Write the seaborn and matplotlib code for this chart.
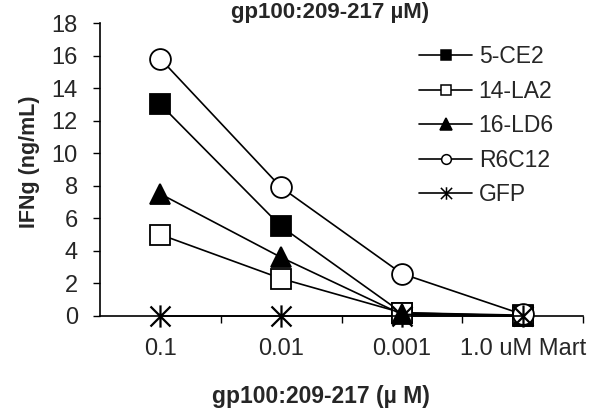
import matplotlib
matplotlib.use("Agg")
import matplotlib.pyplot as plt
from matplotlib.path import Path
import seaborn as sns
import pandas as pd

categories = ["0.1", "0.01", "0.001", "1.0 uM Mart"]
series_names = ["5-CE2", "14-LA2", "16-LD6", "R6C12", "GFP"]
ce2 = [13.0, 5.5, 0.2, 0.05]
la2 = [5.0, 2.3, 0.2, 0.0]
ld6 = [7.5, 3.6, 0.1, 0.0]
r6c12 = [15.8, 7.9, 2.6, 0.1]
gfp = [0.0, 0.0, 0.0, 0.0]
y_ticks = [0, 2, 4, 6, 8, 10, 12, 14, 16, 18]

sns.set_style("white")
plt.rcParams['font.family'] = ['Liberation Sans', 'DejaVu Sans']

rows = []
for name, vals in zip(series_names, [ce2, la2, ld6, r6c12, gfp]):
    for i, (c, v) in enumerate(zip(categories, vals)):
        rows.append({"series": name, "pos": i, "cat": c, "value": v})
df = pd.DataFrame(rows)

# asterisk: vertical stroke plus an X
star = Path([(0, -1), (0, 1), (-0.9, -0.9), (0.9, 0.9), (-0.9, 0.9), (0.9, -0.9)],
            [Path.MOVETO, Path.LINETO, Path.MOVETO, Path.LINETO, Path.MOVETO, Path.LINETO])

styles = {
    "5-CE2": dict(marker="s", mfc="black", ms=14, mew=1.3),
    "14-LA2": dict(marker="s", mfc="white", ms=14, mew=1.3),
    "16-LD6": dict(marker="^", mfc="black", ms=15, mew=1.3),
    "R6C12": dict(marker="o", mfc="white", ms=15, mew=1.3),
    "GFP": dict(marker=star, mfc="black", ms=16, mew=1.6),
}
legend_ms = {"5-CE2": 7, "14-LA2": 7, "16-LD6": 8, "R6C12": 7, "GFP": 9}

fig = plt.figure(figsize=(6.09, 4.09), dpi=100)
ax = fig.add_axes([100/609, 1-316/409, 483/609, 293/409])

handles = []
for name in series_names:
    sub = df[df.series == name]
    st = styles[name]
    sns.lineplot(data=sub, x="pos", y="value", ax=ax, color="black",
                 linewidth=1.2, marker=st["marker"], markersize=st["ms"],
                 markerfacecolor=st["mfc"], markeredgecolor="black",
                 markeredgewidth=st["mew"], legend=False, zorder=6, clip_on=False)
    h, = ax.plot([], [], color="black", linewidth=1.2, marker=st["marker"],
                 markersize=legend_ms[name], markerfacecolor=st["mfc"],
                 markeredgecolor="black", markeredgewidth=1.1)
    handles.append(h)

ax.set_xlim(-0.5, 3.5)
ax.set_ylim(0, 18)
ax.set_yticks(y_ticks)
ax.set_yticklabels([str(t) for t in y_ticks], fontsize=17)
ax.set_xticks([0.5, 1.5, 2.5, 3.5])
ax.set_xticklabels([])
ax.set_xticks([0, 1, 2, 3], minor=True)
ax.set_xticklabels(categories, minor=True, fontsize=17)
ax.tick_params(axis="x", which="major", direction="out", length=5, width=1, color="black", bottom=True)
ax.tick_params(axis="x", which="minor", length=0, pad=16)
ax.tick_params(axis="y", direction="out", length=5, width=1, color="black", left=True, pad=11)
ax.set_xlabel("")
ax.set_ylabel("")
for s in ["top", "right"]:
    ax.spines[s].set_visible(False)
for s in ["left", "bottom"]:
    ax.spines[s].set_color("black")
    ax.spines[s].set_linewidth(1.2)

leg = ax.legend(handles, series_names, loc="upper left", bbox_to_anchor=(310/483, 1-13/293),
                frameon=False, fontsize=16.5, handlelength=2.3, handletextpad=0.3,
                labelspacing=0.5, borderaxespad=0)

fig.text(330/609, 1-18/409, "gp100:209-217 µM)", ha="center", va="baseline",
         fontsize=16, fontweight="bold")
fig.text(321/609, 1-403/409, "gp100:209-217 (µ M)", ha="center", va="baseline",
         fontsize=16.5, fontweight="bold")
fig.text(30/609, 1-162/409, "IFNg (ng/mL)", ha="center", va="center", rotation=90,
         fontsize=15.5, fontweight="bold")

fig.savefig("out.png", dpi=100)
